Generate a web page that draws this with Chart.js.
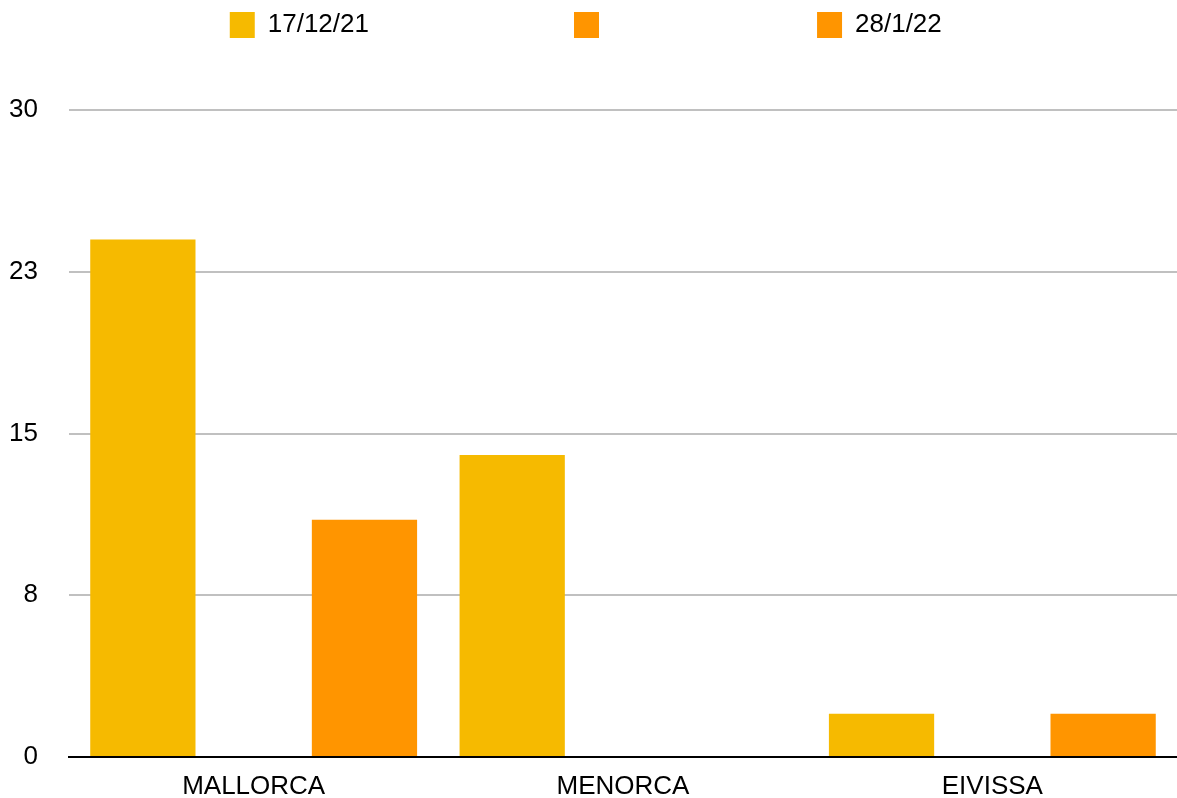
<!DOCTYPE html>
<html>
<head>
<meta charset="utf-8">
<script src="https://cdn.jsdelivr.net/npm/chart.js@4"></script>
<style>
  html, body { margin: 0; padding: 0; background: #fff; }
  #wrap { width: 1177px; height: 798px; }
</style>
</head>
<body>
<div id="wrap"><canvas id="chart" width="1177" height="798"></canvas></div>
<script>
// Chart data
const islands = ['MALLORCA', 'MENORCA', 'EIVISSA'];
const seriesLabels = ['17/12/21', '', '28/1/22'];
const dec17 = [24, 14, 2];
const middle = [0, 0, 0];
const jan28 = [11, 0, 2];
const yTickLabels = ['0', '8', '15', '23', '30'];

const yellow = '#F6BA00';
const orange = '#FF9500';
const fontFamily = '"Liberation Sans", Arial, Helvetica, sans-serif';

// push the plot down below the legend
const legendGap = {
  id: 'legendGap',
  beforeInit(chart) {
    const fit = chart.legend.fit;
    chart.legend.fit = function () {
      fit.bind(chart.legend)();
      this.height += 62;
    };
  }
};

const ctx = document.getElementById('chart');
new Chart(ctx, {
  type: 'bar',
  data: {
    labels: islands,
    datasets: [
      { label: seriesLabels[0], data: dec17, backgroundColor: yellow },
      { label: seriesLabels[1], data: middle, backgroundColor: orange },
      { label: seriesLabels[2], data: jan28, backgroundColor: orange }
    ]
  },
  plugins: [legendGap],
  options: {
    responsive: false,
    animation: false,
    devicePixelRatio: 1,
    layout: { padding: { top: 2, left: 9, right: 0, bottom: 0 } },
    datasets: {
      bar: { categoryPercentage: 0.9, barPercentage: 0.95, borderWidth: 0 }
    },
    plugins: {
      tooltip: { enabled: false },
      legend: {
        display: true,
        position: 'top',
        labels: {
          boxWidth: 25,
          boxHeight: 26,
          padding: 10,
          color: '#000',
          font: { family: fontFamily, size: 26 },
          generateLabels: (chart) => {
            const items = Chart.defaults.plugins.legend.labels.generateLabels(chart);
            items.forEach((it, i) => {
              it.text = it.text + ' '.repeat(i < items.length - 1 ? 27 : 2);
            });
            return items;
          }
        }
      }
    },
    scales: {
      x: {
        grid: { display: false, drawTicks: false },
        border: { display: true, color: '#000', width: 2 },
        ticks: {
          color: '#000',
          padding: 14,
          maxRotation: 0,
          font: { family: fontFamily, size: 26 }
        },
        afterFit: (scale) => { scale.height = 41; }
      },
      y: {
        min: 0,
        max: 30,
        grid: { color: '#C0C0C0', lineWidth: 2, drawTicks: false },
        border: { display: false },
        ticks: {
          stepSize: 7.5,
          padding: 31,
          color: '#000',
          font: { family: fontFamily, size: 26 },
          callback: (value, index) => yTickLabels[index]
        },
        afterFit: (scale) => {
          scale.width = 60;
          scale.paddingTop = 16;
          scale.paddingBottom = 16;
        }
      }
    }
  }
});
</script>
</body>
</html>
